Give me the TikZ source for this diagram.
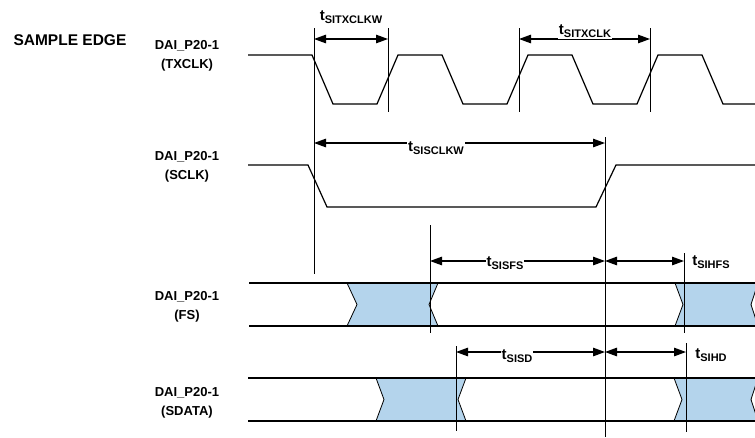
\documentclass[tikz,border=0pt]{standalone}
\usepackage{fontspec}
\setmainfont{Liberation Sans}
\usepackage{tikz}
\usetikzlibrary{arrows.meta,positioning}
\definecolor{busfill}{RGB}{180,212,236}
\newcommand{\tsub}[1]{t\raisebox{-3.5pt}{\fontsize{11}{11}\selectfont #1}}

\tikzset{
  sig/.style={line width=1.2pt},
  tickline/.style={line width=0.9pt},
  dim/.style={line width=1.2pt,{Triangle[length=12pt,width=8.5pt]}-{Triangle[length=12pt,width=8.5pt]}},
  tlab/.style={fill=white,inner sep=1pt,font=\bfseries\fontsize{15}{15}\selectfont},
  signame/.style={align=center,font=\bfseries\fontsize{13}{19.5}\selectfont},
  bus/.style={fill=busfill,draw,line width=0.8pt}
}

\begin{document}
\begin{tikzpicture}[x=1pt,y=-1pt]
   \useasboundingbox (0,0) rectangle (755,437);

   \node[anchor=west,font=\bfseries\fontsize{15.5}{15.5}\selectfont] (edge) at (10,40) {SAMPLE EDGE};
   \node[signame] (txclk) at (187,56) {DAI\_P20-1\\(TXCLK)};
   \node[signame] (sclk)  at (187,167) {DAI\_P20-1\\(SCLK)};
   \node[signame] (fs)    at (187,307) {DAI\_P20-1\\(FS)};
   \node[signame] (sdata) at (187,403) {DAI\_P20-1\\(SDATA)};

   % clocks
   \draw[sig] (248,55) -- (312,55) -- (333,104) -- (377,104)
      \foreach \k in {0,1,2} { -- ++(21,-49) -- ++(44,0) -- ++(21,49) -- ++(44,0) };
   \draw[sig] (248,165) -- (308,165) -- (327,207) -- (596,207) -- (616,165) -- (755,165);

   % data buses
   \draw[bus] (347,283) -- (357,304.5) -- (347,326) -- (438,326) -- (429,304.5) -- (438,283) -- cycle;
   \draw[bus] (675,283) -- (683,304.5) -- (675,326) -- (758,326) -- (751,304.5) -- (758,283) -- cycle;
   \draw[bus] (376,378) -- (384,399.5) -- (376,421) -- (466,421) -- (458,399.5) -- (466,378) -- cycle;
   \draw[bus] (674,378) -- (682,399.5) -- (674,421) -- (758,421) -- (751,399.5) -- (758,378) -- cycle;
   \draw[sig] (249,283) -- (755,283) (249,326) -- (755,326);
   \draw[sig] (248,378) -- (755,378) (248,421) -- (755,421);

   % markers
   \foreach \n/\x/\ya/\yb in {1/314/28/274, 2/388/28/112, 3/519/28/112, 4/650/28/112,
      5/605/137/437, 6/430/225/333, 7/684/253/333, 8/456/346/431, 9/686/343/432} {
      \coordinate (v\n) at (\x,\ya);
      \coordinate (v\n b) at (\x,\yb);
      \draw[tickline] (v\n) -- (v\n b);
   }

   \draw[dim] (v1 |- 0,39) -- (v2 |- 0,39);
   \draw[dim] (v3 |- 0,39) -- (v4 |- 0,39);
   \draw[dim] (v1 |- 0,143) -- (v5 |- 0,143);
   \draw[dim] (v6 |- 0,261) -- (v5 |- 0,261);
   \draw[dim] (v5 |- 0,261) -- (v7 |- 0,261);
   \draw[dim] (v8 |- 0,352) -- (v5 |- 0,352);
   \draw[dim] (v5 |- 0,352) -- (v9 |- 0,352);

   \node[tlab] (w1) at (351,17)  {\tsub{SITXCLKW}};
   \node[tlab] (w2) at (585,31)  {\tsub{SITXCLK}};
   \node[tlab] (w3) at (436,148) {\tsub{SISCLKW}};
   \node[tlab] (w4) at (505,263) {\tsub{SISFS}};
   \node[tlab] (w5) at (711,262) {\tsub{SIHFS}};
   \node[tlab] (w6) at (517,356) {\tsub{SISD}};
   \node[tlab] (w7) at (711,355) {\tsub{SIHD}};
\end{tikzpicture}
\end{document}
